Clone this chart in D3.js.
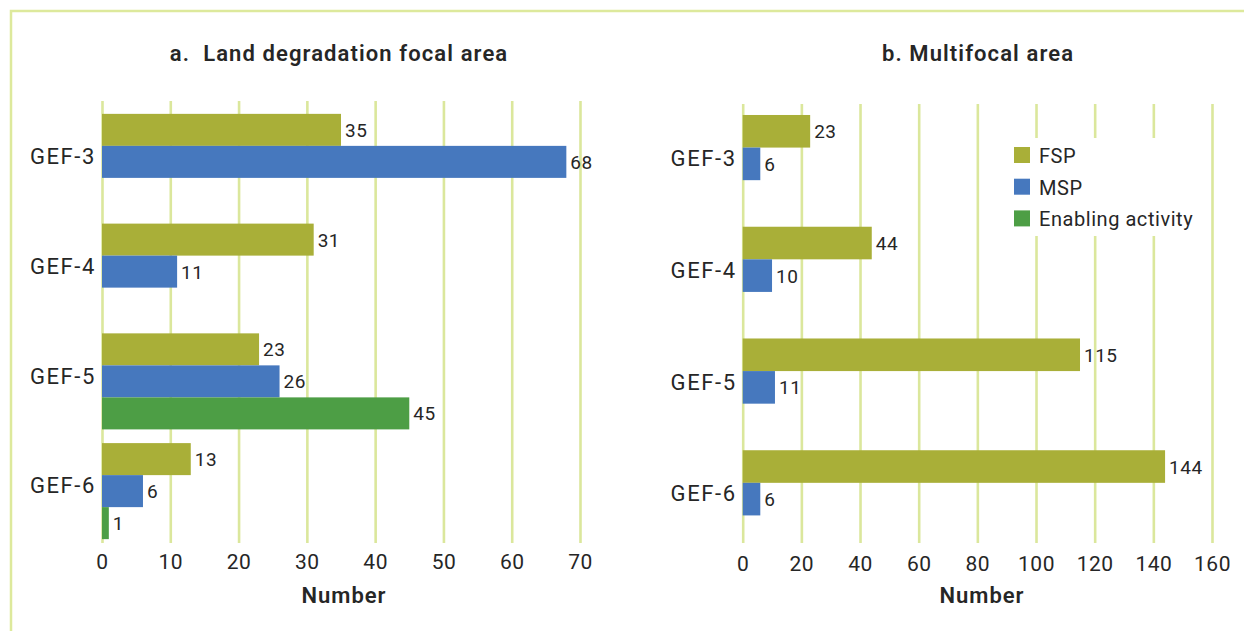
<!DOCTYPE html>
<html>
<head>
<meta charset="utf-8">
<style>
  body { margin: 0; background: #fff; }
  svg { display: block; font-family: Roboto, "DejaVu Sans", sans-serif; }
</style>
</head>
<body></body>
<script src="https://d3js.org/d3.v7.min.js"></script>
<script>
  // data
  const categories = ['GEF-3', 'GEF-4', 'GEF-5', 'GEF-6']
  const series = ['FSP', 'MSP', 'Enabling activity']

  const landFSP = [35, 31, 23, 13]
  const landMSP = [68, 11, 26, 6]
  const landEA = [null, null, 45, 1]

  const multiFSP = [23, 44, 115, 144]
  const multiMSP = [6, 10, 11, 6]
  const multiEA = [null, null, null, null]

  const landTicks = [0, 10, 20, 30, 40, 50, 60, 70]
  const multiTicks = [0, 20, 40, 60, 80, 100, 120, 140, 160]

  const colors = { 'FSP': '#a9af38', 'MSP': '#4678be', 'Enabling activity': '#4d9e45' }
  const gridColor = '#dbe79c'
  const textColor = '#262626'

  const width = 1244
  const height = 631

  const svg = d3.select('body')
    .append('svg')
    .attr('width', width)
    .attr('height', height)

  // outer frame (runs off the right and bottom edge)
  svg.append('rect')
    .attr('x', 11).attr('y', 11)
    .attr('width', 1400).attr('height', 800)
    .attr('fill', 'none')
    .attr('stroke', '#dde99c')
    .attr('stroke-width', 2.5)

  function rows(fsp, msp, ea) {
    return categories.map((c, i) => ({
      cat: c,
      values: [
        { key: 'FSP', value: fsp[i] },
        { key: 'MSP', value: msp[i] },
        { key: 'Enabling activity', value: ea[i] }
      ]
    }))
  }

  function drawPanel(opts) {
    const g = svg.append('g')

    const x = d3.scaleLinear()
      .domain([0, d3.max(opts.ticks)])
      .range(opts.xRange)

    const y = d3.scaleBand()
      .domain(categories)
      .range(opts.yRange)
      .paddingInner(0.125)
      .paddingOuter(0.0625)

    const ys = d3.scaleBand()
      .domain(series)
      .range([0, y.bandwidth()])

    // grid + tick labels
    const xAxis = d3.axisBottom(x)
      .tickValues(opts.ticks)
      .tickSize(-(opts.gridBottom - opts.gridTop))
      .tickFormat(d3.format('d'))
    const ax = g.append('g')
      .attr('transform', `translate(0, ${opts.gridBottom})`)
      .call(xAxis)
    ax.select('.domain').remove()
    ax.selectAll('line')
      .attr('stroke', gridColor)
      .attr('stroke-width', 2.6)
    ax.selectAll('text')
      .attr('y', opts.tickBaseline - opts.gridBottom)
      .attr('dy', 0)
      .attr('fill', textColor)
      .attr('font-size', 21)
      .attr('letter-spacing', 0.5)
      .attr('font-family', 'Roboto, sans-serif')

    // legend box hides the grid behind it
    if (opts.legend) {
      const lg = g.append('g')
      lg.append('rect')
        .attr('x', 995).attr('y', 138)
        .attr('width', 205).attr('height', 98)
        .attr('fill', '#fff')
      series.forEach((s, i) => {
        lg.append('rect')
          .attr('x', 1014).attr('y', 147 + i * 31.7)
          .attr('width', 16).attr('height', 16)
          .attr('fill', colors[s])
        lg.append('text')
          .attr('x', 1039).attr('y', 163 + i * 31.7)
          .attr('fill', textColor)
          .attr('font-size', 20)
          .attr('letter-spacing', 0.55)
          .text(s)
      })
    }

    // bars
    const grp = g.selectAll('.cat')
      .data(rows(opts.fsp, opts.msp, opts.ea))
      .enter().append('g')
      .attr('class', 'cat')
      .attr('transform', d => `translate(0, ${y(d.cat)})`)

    const items = grp.selectAll('.bar')
      .data(d => d.values.filter(v => v.value != null))
      .enter()

    items.append('rect')
      .attr('x', x(0))
      .attr('y', d => ys(d.key))
      .attr('width', d => x(d.value) - x(0))
      .attr('height', ys.bandwidth())
      .attr('fill', d => colors[d.key])

    items.append('text')
      .attr('x', d => x(d.value) + 4)
      .attr('y', d => ys(d.key) + ys.bandwidth() / 2 + 7)
      .attr('fill', textColor)
      .attr('font-size', 19)
      .attr('letter-spacing', 0.5)
      .text(d => d.value)

    // category labels
    const yAxis = d3.axisLeft(y).tickSize(0).tickPadding(6)
    const ay = g.append('g')
      .attr('transform', `translate(${x(0)}, 0)`)
      .call(yAxis)
    ay.select('.domain').remove()
    ay.selectAll('text')
      .attr('dy', '0.1em')
      .attr('fill', textColor)
      .attr('font-size', 22)
      .attr('letter-spacing', 1.6)
      .attr('font-family', 'Roboto, sans-serif')

    // title and axis title
    g.append('text')
      .attr('x', opts.titleX).attr('y', 61)
      .attr('text-anchor', 'middle')
      .attr('font-weight', 600)
      .attr('font-size', 22)
      .attr('letter-spacing', 1.1)
      .attr('fill', textColor)
      .attr('xml:space', 'preserve')
      .text(opts.title)

    g.append('text')
      .attr('x', opts.numberX).attr('y', 603)
      .attr('text-anchor', 'middle')
      .attr('font-weight', 600)
      .attr('font-size', 22)
      .attr('letter-spacing', 1)
      .attr('fill', textColor)
      .text('Number')
  }

  drawPanel({
    title: 'a.  Land degradation focal area',
    titleX: 339,
    numberX: 344,
    ticks: landTicks,
    xRange: [102, 580],
    yRange: [107, 546],
    gridTop: 101,
    gridBottom: 543,
    tickBaseline: 569,
    fsp: landFSP, msp: landMSP, ea: landEA,
    legend: false
  })

  drawPanel({
    title: 'b. Multifocal area',
    titleX: 978,
    numberX: 982,
    ticks: multiTicks,
    xRange: [742.7, 1212],
    yRange: [108, 555],
    gridTop: 104,
    gridBottom: 543,
    tickBaseline: 571,
    fsp: multiFSP, msp: multiMSP, ea: multiEA,
    legend: true
  })
</script>
</html>
